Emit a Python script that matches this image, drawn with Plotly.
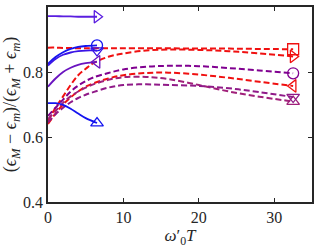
import plotly.graph_objects as go

# ---- data ----
x_short = [0, 1, 2, 3, 4, 5, 6.5]
s_tri_right = [0.972, 0.972, 0.971, 0.971, 0.970, 0.970, 0.970]
s_circle = [0.825, 0.846, 0.861, 0.871, 0.877, 0.880, 0.882]
s_tri_down = [0.820, 0.840, 0.853, 0.860, 0.864, 0.866, 0.866]
s_tri_left = [0.755, 0.780, 0.800, 0.813, 0.822, 0.827, 0.831]
s_tri_up = [0.704, 0.704, 0.699, 0.687, 0.672, 0.658, 0.643]

x_long = [0, 1, 2, 3, 4, 5, 6, 8, 10, 13, 16, 20, 24, 28, 32.5]
d_square = [0.875, 0.875, 0.874, 0.874, 0.873, 0.873, 0.873, 0.873, 0.873, 0.873, 0.873, 0.872, 0.872, 0.871, 0.870]
d_tri_right = [0.650, 0.690, 0.725, 0.760, 0.790, 0.810, 0.827, 0.847, 0.857, 0.866, 0.869, 0.868, 0.864, 0.857, 0.848]
d_tri_left = [0.640, 0.672, 0.700, 0.722, 0.740, 0.755, 0.765, 0.780, 0.790, 0.797, 0.798, 0.792, 0.782, 0.770, 0.757]
d_circle = [0.665, 0.690, 0.715, 0.740, 0.758, 0.772, 0.783, 0.797, 0.808, 0.816, 0.819, 0.818, 0.812, 0.805, 0.796]
d_tri_up = [0.655, 0.680, 0.705, 0.725, 0.740, 0.752, 0.762, 0.776, 0.784, 0.785, 0.778, 0.760, 0.740, 0.724, 0.709]
d_tri_down = [0.645, 0.670, 0.690, 0.707, 0.720, 0.730, 0.738, 0.752, 0.760, 0.762, 0.760, 0.757, 0.750, 0.738, 0.723]

x_ticks = [0, 10, 20, 30]
y_ticks = [0.4, 0.6, 0.8, 1.0]
y_tick_text = ["0.4", "0.6", "0.8", "1"]

solid = [
    (s_tri_right, "#5a1ee0", "triangle-right-open"),
    (s_circle, "#1414f0", "circle-open"),
    (s_tri_down, "#3a14e6", "triangle-down-open"),
    (s_tri_left, "#6a14c0", "triangle-left-open"),
    (s_tri_up, "#1414f0", "triangle-up-open"),
]
dashed = [
    (d_square, "#f01010", "square-open"),
    (d_tri_right, "#f01010", "triangle-right-open"),
    (d_tri_left, "#f01010", "triangle-left-open"),
    (d_circle, "#800090", "circle-open"),
    (d_tri_up, "#a0207a", "triangle-up-open"),
    (d_tri_down, "#901a88", "triangle-down-open"),
]

fig = go.Figure()
for ys, col, sym in dashed:
    fig.add_trace(go.Scatter(x=x_long, y=ys, mode="lines", line=dict(color=col, width=2, dash="6px,3px", shape="spline"),
                             showlegend=False, hoverinfo="skip"))
    fig.add_trace(go.Scatter(x=[x_long[-1]], y=[ys[-1]], mode="markers",
                             marker=dict(symbol=sym, size=11, color=col, line=dict(width=1.3, color=col)),
                             showlegend=False))
for ys, col, sym in solid:
    fig.add_trace(go.Scatter(x=x_short, y=ys, mode="lines", line=dict(color=col, width=1.8, shape="spline"),
                             showlegend=False, hoverinfo="skip"))
    fig.add_trace(go.Scatter(x=[x_short[-1]], y=[ys[-1]], mode="markers",
                             marker=dict(symbol=sym, size=11, color=col, line=dict(width=1.3, color=col)),
                             showlegend=False))

axis_common = dict(showgrid=False, zeroline=False, showline=True, linecolor="#262626", linewidth=1.5,
                   mirror="ticks", ticks="inside", ticklen=4, tickcolor="#262626",
                   tickfont=dict(family="Liberation Serif", size=16, color="#262626"))

fig.update_layout(
    width=316, height=248,
    margin=dict(l=48, r=2, t=7, b=46),
    paper_bgcolor="white", plot_bgcolor="white",
    xaxis=dict(range=[0, 35], tickvals=x_ticks,
               title=dict(text="<i>ω</i>′<sub>0</sub><i>T</i>", standoff=0,
                          font=dict(family="Liberation Serif", size=17, color="#262626")),
               **axis_common),
    yaxis=dict(range=[0.4, 1.0], tickvals=y_ticks, ticktext=y_tick_text,
               title=dict(text="(<i>ϵ<sub>M</sub></i> − <i>ϵ<sub>m</sub></i>)/(<i>ϵ<sub>M</sub></i> + <i>ϵ<sub>m</sub></i>)", standoff=2,
                          font=dict(family="Liberation Serif", size=18, color="#262626")),
               **axis_common),
)

fig.write_html("out.html", config={"displayModeBar": False},
               post_script="document.body.style.margin='0';document.body.style.padding='0';")
